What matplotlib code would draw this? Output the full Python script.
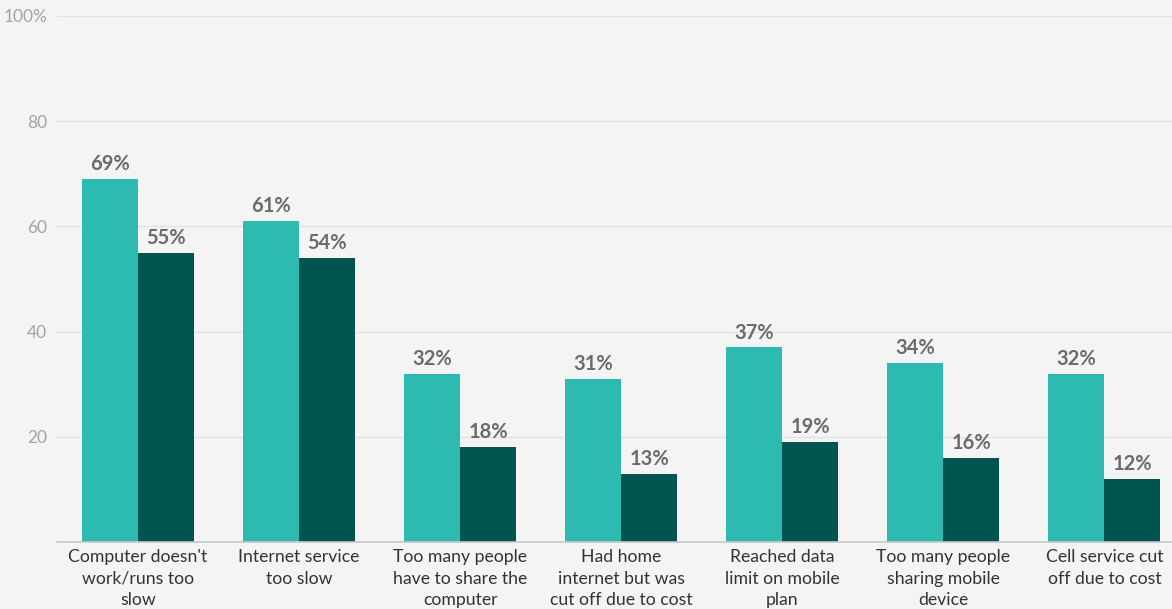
import matplotlib
matplotlib.use("Agg")
import matplotlib.pyplot as plt
import numpy as np

categories = ["Computer doesn't\nwork/runs too\nslow", "Internet service\ntoo slow",
              "Too many people\nhave to share the\ncomputer", "Had home\ninternet but was\ncut off due to cost",
              "Reached data\nlimit on mobile\nplan", "Too many people\nsharing mobile\ndevice",
              "Cell service cut\noff due to cost"]
series_a = [69, 61, 32, 31, 37, 34, 32]
series_b = [55, 54, 18, 13, 19, 16, 12]
yticks = [20, 40, 60, 80, 100]
ytick_labels = ["20", "40", "60", "80", "100%"]

bg = "#f4f4f4"
teal = "#2dbbb1"
dark = "#00564f"

fig = plt.figure(figsize=(11.72, 6.09), dpi=100, facecolor=bg)
ax = fig.add_axes([57/1172, 67/609, 1 - 57/1172, (542-16)/609])
ax.set_facecolor(bg)

x = np.arange(len(categories))
w = 0.348
b1 = ax.bar(x - w/2, series_a, w, color=teal, zorder=3)
b2 = ax.bar(x + w/2, series_b, w, color=dark, zorder=3)

for bars, vals in ((b1, series_a), (b2, series_b)):
    for r, v in zip(bars, vals):
        ax.annotate(f"{v}%", (r.get_x() + r.get_width()/2, v), xytext=(0, 3.5),
                    textcoords="offset points", ha="center", va="bottom",
                    fontsize=14.5, fontweight="bold", color="#6b6b6b", family="Lato")

ax.set_ylim(0, 100)
ax.set_xlim(-0.503, 6.42)
ax.set_yticks(yticks)
ax.set_yticklabels(ytick_labels, family="Lato", fontsize=12.5, color="#a3a3a3")
ax.set_xticks(x)
ax.set_xticklabels(categories, family="Lato", fontsize=12.7, color="#333333", linespacing=1.43)
ax.tick_params(axis="both", length=0)
ax.tick_params(axis="y", pad=7)
ax.tick_params(axis="x", pad=5)
ax.grid(axis="y", color="#e2e2e2", linewidth=1, zorder=0)
for s in ["top", "right", "left"]:
    ax.spines[s].set_visible(False)
ax.spines["bottom"].set_color("#c8c8c8")
ax.spines["bottom"].set_linewidth(1.2)
ax.spines["bottom"].set_zorder(4)

fig.savefig("out.png", dpi=100, facecolor=bg)
